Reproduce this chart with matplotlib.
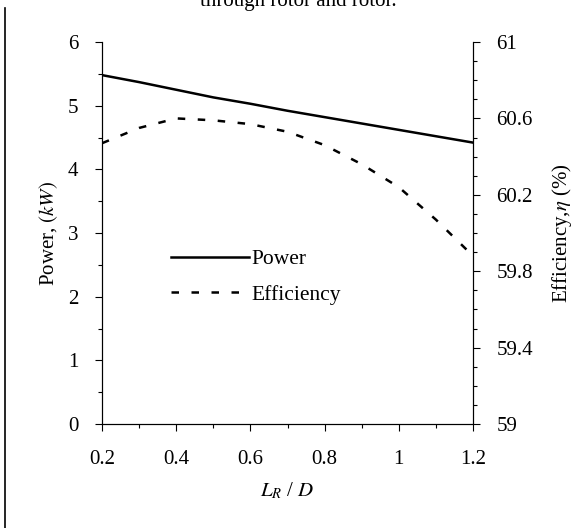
import matplotlib
matplotlib.use("Agg")
import matplotlib.pyplot as plt
from matplotlib.lines import Line2D
from matplotlib.ticker import MultipleLocator, FuncFormatter

plt.rcParams["font.family"] = "Liberation Serif"
plt.rcParams["mathtext.fontset"] = "stix"

# L_R / D values and readings
lr_d = [0.2, 0.3, 0.4, 0.5, 0.6, 0.7, 0.8, 0.9, 1.0, 1.1, 1.2]
power = [5.48, 5.37, 5.25, 5.13, 5.03, 4.92, 4.82, 4.72, 4.62, 4.52, 4.42]
efficiency = [60.47, 60.55, 60.60, 60.59, 60.57, 60.53, 60.46, 60.36, 60.24, 60.07, 59.88]
eff_ticks = [59, 59.4, 59.8, 60.2, 60.6, 61]

fig = plt.figure(figsize=(5.85, 5.28), dpi=100)
ax = fig.add_axes([102 / 585, 1 - 424 / 528, 371 / 585, 382 / 528])
ax2 = ax.twinx()

l1, = ax.plot(lr_d, power, color="black", lw=1.8, label="Power")
l2, = ax2.plot(lr_d, efficiency, color="black", lw=1.8, ls=(0, (3, 5)), label="Efficiency")

ax.set_xlim(0.2, 1.2)
ax.set_ylim(0, 6)
ax2.set_ylim(59, 61)

ax.xaxis.set_major_locator(MultipleLocator(0.2))
ax.xaxis.set_minor_locator(MultipleLocator(0.1))
ax.yaxis.set_major_locator(MultipleLocator(1))
ax.yaxis.set_minor_locator(MultipleLocator(0.5))
ax2.set_yticks(eff_ticks)
ax2.yaxis.set_minor_locator(MultipleLocator(0.1))

ax.xaxis.set_major_formatter(FuncFormatter(lambda v, p: f"{v:g}"))
ax2.yaxis.set_major_formatter(FuncFormatter(lambda v, p: f"{v:g}"))

for a in (ax, ax2):
    for s in a.spines.values():
        s.set_linewidth(0.8)
    a.spines["top"].set_visible(False)
    a.tick_params(which="major", length=5, width=0.8, labelsize=15, pad=12)
    a.tick_params(which="minor", length=3, width=0.8)
ax.tick_params(axis="x", pad=14)

ax.set_xlabel("$L_R$ / $D$", fontsize=15, labelpad=8)
ax.set_ylabel("Power, $(kW)$", fontsize=15, labelpad=6)
ax2.set_ylabel("Efficiency,$\\eta$ (%)", fontsize=15, labelpad=12)

ax.legend([l1, l2], ["Power", "Efficiency"], loc="center left",
          bbox_to_anchor=(0.135, 0.385), frameon=False, fontsize=15.5,
          handlelength=3.6, handletextpad=0.1, labelspacing=0.7)

# clipped caption line and scan border from the source page
fig.text(0.51, 0.998, "through rotor and rotor.", ha="center", va="center", fontsize=15)
fig.add_artist(Line2D([0.009, 0.009], [0.0, 0.985], color="black", lw=1.2))

fig.savefig("out.png", dpi=100)
